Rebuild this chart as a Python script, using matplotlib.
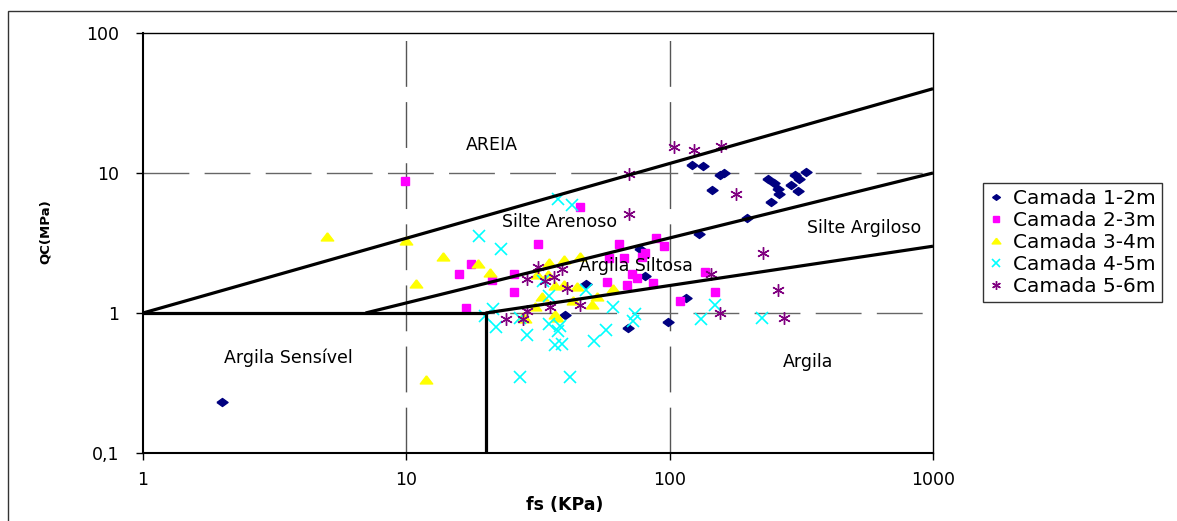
import matplotlib
matplotlib.use("Agg")
import matplotlib.pyplot as plt
from matplotlib.patches import Rectangle
from matplotlib.ticker import FixedLocator, FixedFormatter, NullLocator

# --- data: fs (kPa) and qc (MPa) per depth layer ---
fs_1_2 = [2, 122, 134, 155, 161, 145, 237, 248, 257, 260, 242, 300, 329, 310, 289, 307,
          196, 129, 77.2, 80.7, 48, 40, 69.7, 98.9, 115]
qc_1_2 = [0.23, 11.4, 11.2, 9.68, 10.05, 7.52, 9.02, 8.53, 7.65, 7.08, 6.24, 9.68, 10.2, 9.02, 8.2, 7.4,
          4.75, 3.67, 2.87, 1.84, 1.61, 0.97, 0.78, 0.86, 1.27]

fs_2_3 = [9.9, 45.7, 31.6, 64.2, 88.5, 95.2, 58.7, 67.2, 78.3, 80.6, 17.6, 15.9, 21.1, 25.6,
          71.8, 75, 57.6, 69.1, 86.6, 25.6, 16.8, 109, 136, 148]
qc_2_3 = [8.77, 5.72, 3.11, 3.1, 3.43, 3.01, 2.46, 2.48, 2.52, 2.67, 2.24, 1.89, 1.72, 1.89,
          1.9, 1.77, 1.66, 1.58, 1.65, 1.42, 1.08, 1.22, 1.95, 1.41]

fs_3_4 = [4.99, 9.95, 10.9, 11.9, 13.8, 18.7, 20.8, 34.8, 39.7, 45.7, 31.3, 34.6, 36.7, 39.8,
          44.4, 61, 50.8, 43.1, 52.8, 32.7, 30.8, 36.7, 37.3, 27.8, 28.2]
qc_3_4 = [3.51, 3.28, 1.61, 0.33, 2.5, 2.24, 1.92, 2.29, 2.39, 2.52, 1.87, 1.87, 1.57, 1.58,
          1.53, 1.48, 1.14, 1.22, 1.31, 1.31, 1.11, 0.97, 0.92, 0.94, 0.91]

fs_4_5 = [37.8, 42.5, 18.8, 22.8, 33.1, 34.9, 48.1, 61.1, 73.9, 72.6, 19.9, 21.9, 28.7, 34.9,
          38.4, 37.6, 36.7, 38.9, 51.6, 57.5, 27, 41.8, 27, 149, 132, 224, 21.3]
qc_4_5 = [6.52, 5.91, 3.52, 2.87, 1.70, 1.32, 1.46, 1.1, 0.98, 0.88, 0.95, 0.79, 0.70, 0.83,
          0.81, 0.74, 0.59, 0.6, 0.63, 0.75, 0.35, 0.35, 0.92, 1.15, 0.9, 0.92, 1.07]

fs_5_6 = [103.5, 124, 156, 70.1, 178, 70.1, 227, 144, 257, 155, 272, 31.7, 39, 28.7, 33.6,
          36.5, 40.6, 45.7, 28.7, 23.9, 27.8, 35.2]
qc_5_6 = [15.3, 14.6, 15.6, 9.79, 7.05, 5.07, 2.68, 1.89, 1.46, 1.0, 0.92, 2.13, 2.06, 1.74, 1.68,
          1.82, 1.51, 1.14, 1.04, 0.91, 0.91, 1.11]

series_labels = ["Camada 1-2m", "Camada 2-3m", "Camada 3-4m", "Camada 4-5m", "Camada 5-6m"]

# --- classification boundaries (fs, qc) ---
bound_a_fs = [1, 1000]
bound_a_qc = [1, 40]
bound_b_fs = [7, 1000]
bound_b_qc = [1, 10]
bound_c_fs = [20, 1000]
bound_c_qc = [1, 3]
bound_d_fs = [1, 20, 20]
bound_d_qc = [1, 1, 0.1]

zone_names = ["AREIA", "Silte Arenoso", "Argila Siltosa", "Silte Argiloso", "Argila Sensível", "Argila"]
zone_fs = [21.1, 38.1, 74.5, 547, 3.55, 336]
zone_qc = [15.8, 4.46, 2.17, 4.05, 0.477, 0.447]

x_ticks = [1, 10, 100, 1000]
x_tick_labels = ["1", "10", "100", "1000"]
y_ticks = [0.1, 1, 10, 100]
y_tick_labels = ["0,1", "1", "10", "100"]

plt.rcParams["font.family"] = ["DejaVu Sans"]

W, H = 1177, 521
fig = plt.figure(figsize=(W / 100, H / 100), dpi=100)
fig.patch.set_facecolor("white")

# chart-area border
fig.add_artist(Rectangle((8 / W, -0.2), 1.2, 1.2 - 11 / H,
                         transform=fig.transFigure, fill=False,
                         edgecolor="#333333", linewidth=1.0))

ax = fig.add_axes([143 / W, (H - 453) / H, (933 - 143) / W, (453 - 33) / H])
ax.set_xscale("log")
ax.set_yscale("log")
ax.set_xlim(1, 1000)
ax.set_ylim(0.1, 100)

# dashed grid at the inner decades
dash = (0, (33, 11))
for xv in [10, 100]:
    ax.axvline(xv, color="#555555", lw=1.0, linestyle=dash, zorder=1)
for yv in [1, 10]:
    ax.axhline(yv, color="#666666", lw=1.0, linestyle=dash, zorder=1)

diamond = [(-1, 0), (0, 0.72), (1, 0), (0, -0.72), (-1, 0)]
triangle = [(0, 0.75), (-1, -0.55), (1, -0.55), (0, 0.75)]

ax.plot(fs_1_2, qc_1_2, linestyle="none", marker=diamond, ms=8, color="#000080",
        mec="#000080", label=series_labels[0], zorder=3)
ax.plot(fs_2_3, qc_2_3, linestyle="none", marker="s", ms=6, color="#FF00FF",
        mec="#FF00FF", label=series_labels[1], zorder=3)
ax.plot(fs_3_4, qc_3_4, linestyle="none", marker=triangle, ms=9, color="#FFFF00",
        mec="#FFFF00", label=series_labels[2], zorder=3)
ax.plot(fs_4_5, qc_4_5, linestyle="none", marker="x", ms=8, mew=1.2, color="#00FFFF",
        label=series_labels[3], zorder=3)
ax.plot(fs_5_6, qc_5_6, linestyle="none", marker=(6, 2, 0), ms=9, mew=1.0, color="#800080",
        label=series_labels[4], zorder=3)

for bx, by in [(bound_a_fs, bound_a_qc), (bound_b_fs, bound_b_qc),
               (bound_c_fs, bound_c_qc), (bound_d_fs, bound_d_qc)]:
    ax.plot(bx, by, color="black", lw=2.3, solid_capstyle="butt", zorder=4)

for name, zx, zy in zip(zone_names, zone_fs, zone_qc):
    ax.text(zx, zy, name, ha="center", va="center", fontsize=12.5, color="black", zorder=5)

ax.xaxis.set_major_locator(FixedLocator(x_ticks))
ax.xaxis.set_major_formatter(FixedFormatter(x_tick_labels))
ax.yaxis.set_major_locator(FixedLocator(y_ticks))
ax.yaxis.set_major_formatter(FixedFormatter(y_tick_labels))
ax.xaxis.set_minor_locator(NullLocator())
ax.yaxis.set_minor_locator(NullLocator())
ax.tick_params(axis="both", direction="out", length=5, width=1, labelsize=12.5, colors="black")
ax.tick_params(axis="x", pad=8)
ax.tick_params(axis="y", pad=12)
for sp in ax.spines.values():
    sp.set_color("black")
    sp.set_linewidth(1.0)
ax.spines["left"].set_linewidth(1.5)
ax.spines["bottom"].set_linewidth(1.5)

fig.text(565 / W, 1 - 505 / H, "fs (KPa)", ha="center", va="center",
         fontsize=12.5, fontweight="bold")
fig.text(45 / W, 1 - 232 / H, "QC(MPa)", ha="center", va="center",
         rotation=90, fontsize=9.5, fontweight="bold")

leg = ax.legend(loc="upper left", bbox_to_anchor=(983 / W, 1 - 183 / H),
                bbox_transform=fig.transFigure, frameon=True, fancybox=False,
                shadow=False, fontsize=14.5, handlelength=0.7, handletextpad=0.5,
                borderpad=0.3, labelspacing=0.15, borderaxespad=0.0,
                markerscale=0.7)
leg.get_frame().set_edgecolor("black")
leg.get_frame().set_linewidth(1.0)

fig.savefig("out.png", dpi=100)
